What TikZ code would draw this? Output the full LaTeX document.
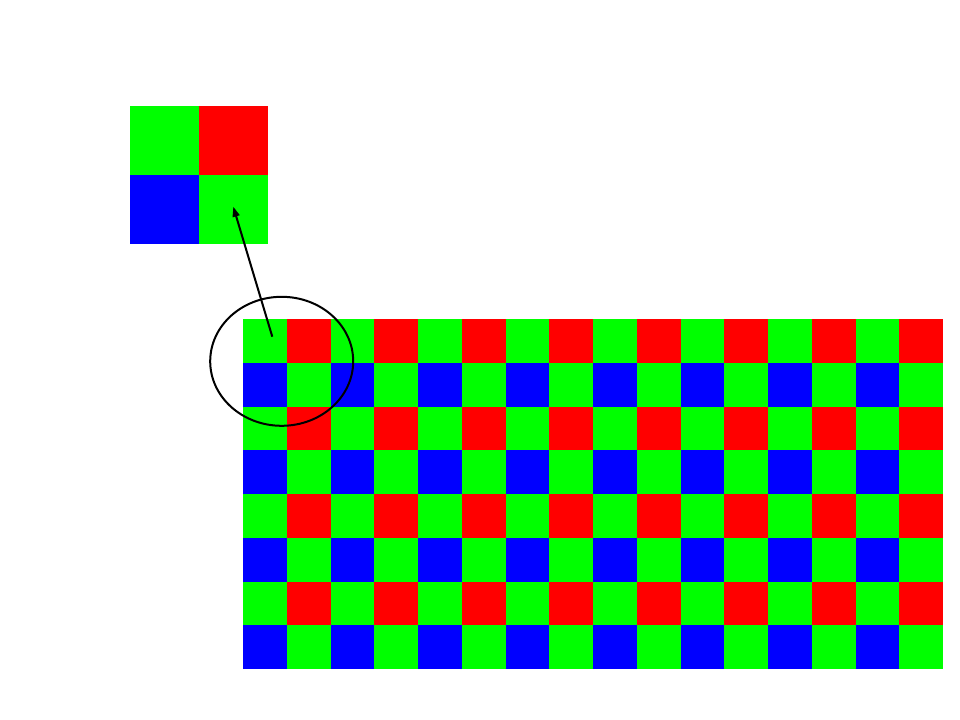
\documentclass[tikz,border=0pt]{standalone}
\usetikzlibrary{arrows.meta,shapes.geometric}
\definecolor{bg}{RGB}{0,255,0}
\definecolor{br}{RGB}{255,0,0}
\definecolor{bb}{RGB}{0,0,255}
\tikzset{
  cell/.style={inner sep=0pt,outer sep=0pt,minimum width=43.75bp,minimum height=43.75bp},
  bigcell/.style={inner sep=0pt,outer sep=0pt,minimum width=69bp,minimum height=69bp},
  ring/.style={draw=black,line width=2bp,ellipse,inner sep=0pt,minimum width=143bp,minimum height=129bp},
  pointer/.style={draw=black,line width=2bp,-{Triangle[length=10bp,width=7bp]}}
}
\begin{document}
\begin{tikzpicture}[x=1bp,y=-1bp]
\useasboundingbox (0,0) rectangle (960,720);
% small 2x2 sample
\node[bigcell,fill=bg,anchor=north west] (s11) at (130,106) {};
\node[bigcell,fill=br,anchor=north west] (s12) at (199,106) {};
\node[bigcell,fill=bb,anchor=north west] (s21) at (130,175) {};
\node[bigcell,fill=bg,anchor=north west] (s22) at (199,175) {};
% Bayer grid
\foreach \r in {0,...,7}{
  \foreach \c in {0,...,15}{
    \pgfmathtruncatemacro{\rr}{mod(\r,2)}
    \pgfmathtruncatemacro{\cc}{mod(\c,2)}
    \ifnum\rr=0
      \ifnum\cc=0 \def\col{bg}\else\def\col{br}\fi
    \else
      \ifnum\cc=0 \def\col{bb}\else\def\col{bg}\fi
    \fi
    \node[cell,fill=\col,anchor=north west] (g-\r-\c) at ({243+43.75*\c},{319+43.75*\r}) {};
  }
}
% ellipse and arrow
\node[ring] (ring) at (281.7,361.3) {};
\coordinate (from) at (272.3,336.7);
\coordinate (to) at (233.3,206.7);
\draw[pointer] (from) -- (to);
\end{tikzpicture}
\end{document}
